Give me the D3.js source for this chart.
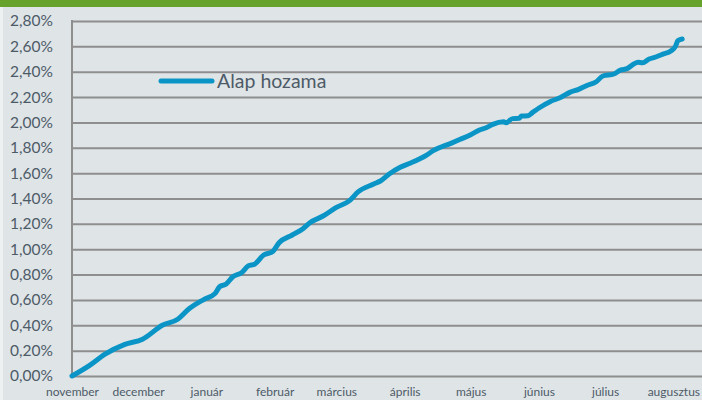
<!DOCTYPE html>
<html>
<head>
<meta charset="utf-8">
<script src="https://cdn.jsdelivr.net/npm/d3@7/dist/d3.min.js"></script>
<style>
  html, body { margin: 0; padding: 0; background: #dfe4e7; }
  svg { display: block; }
</style>
</head>
<body>
<svg id="chart" width="702" height="400"></svg>
<script>
// ---- DATA ----
const seriesName = "Alap hozama";
const dates = [
  "2013-11-01","2013-11-09","2013-11-16","2013-11-25","2013-12-03","2013-12-12","2013-12-19","2013-12-24","2013-12-31",
  "2014-01-05","2014-01-07","2014-01-10","2014-01-13","2014-01-17","2014-01-20","2014-01-23","2014-01-27","2014-01-31",
  "2014-02-03","2014-02-09","2014-02-14","2014-02-17","2014-02-23",
  "2014-03-01","2014-03-07","2014-03-11","2014-03-18","2014-03-21","2014-03-25","2014-03-30",
  "2014-04-04","2014-04-11","2014-04-14","2014-04-22","2014-04-26",
  "2014-05-01","2014-05-05","2014-05-08","2014-05-11","2014-05-16","2014-05-17","2014-05-20","2014-05-23","2014-05-24","2014-05-27","2014-05-29",
  "2014-06-01","2014-06-06","2014-06-11","2014-06-15","2014-06-19","2014-06-23","2014-06-27","2014-06-30",
  "2014-07-05","2014-07-08","2014-07-11","2014-07-14","2014-07-16","2014-07-18","2014-07-21","2014-07-24","2014-07-27","2014-07-31",
  "2014-08-02","2014-08-03","2014-08-05"
];
const values = [
  0.000,0.084,0.173,0.250,0.290,0.400,0.447,0.528,0.605,
  0.652,0.704,0.726,0.783,0.815,0.868,0.883,0.954,0.980,
  1.051,1.112,1.164,1.209,1.262,
  1.330,1.383,1.454,1.514,1.538,1.593,1.646,
  1.682,1.743,1.777,1.835,1.865,
  1.903,1.940,1.958,1.985,2.005,1.997,2.030,2.032,2.050,2.053,2.077,
  2.114,2.164,2.198,2.237,2.261,2.293,2.321,2.366,
  2.382,2.413,2.424,2.461,2.474,2.470,2.500,2.516,2.537,2.565,
  2.602,2.644,2.658
];
const monthLabels = ["november","december","január","február","március","április","május","június","július","augusztus"];
const monthStarts = ["2013-11-01","2013-12-01","2014-01-01","2014-02-01","2014-03-01","2014-04-01","2014-05-01","2014-06-01","2014-07-01","2014-08-01"];
const yTicks = [0,0.2,0.4,0.6,0.8,1.0,1.2,1.4,1.6,1.8,2.0,2.2,2.4,2.6,2.8];

// ---- CHART ----
(function () {
const parse = d3.timeParse("%Y-%m-%d");
const data = dates.map((d, i) => ({ date: parse(d), value: values[i] }));

const svg = d3.select("#chart");
const W = 702, H = 400;
const pLeft = 72, pRight = 702, pTop = 21, pBottom = 376;
const textColor = "#4d5b67";
const gridColor = "#8e8e8e";
const font = "Lato, 'Open Sans', sans-serif";

svg.append("rect").attr("x", 0).attr("y", 0).attr("width", W).attr("height", H).attr("fill", "#dfe4e7");
svg.append("rect").attr("x", 0).attr("y", 0).attr("width", 3).attr("height", H).attr("fill", "#eef1f2");
svg.append("rect").attr("x", 0).attr("y", 0).attr("width", W).attr("height", 7).attr("fill", "#66a22c");

const x = d3.scaleTime()
  .domain([parse("2013-11-01"), parse("2014-08-14")])
  .range([pLeft, pRight]);
const y = d3.scaleLinear().domain([0, 2.8]).range([pBottom, pTop]);

// gridlines + y labels
const yAxis = d3.axisLeft(y)
  .tickValues(yTicks)
  .tickSize(-(pRight - pLeft))
  .tickPadding(19)
  .tickFormat(d => d.toFixed(2).replace(".", ",") + "%");
const gy = svg.append("g").attr("transform", `translate(${pLeft},0)`).call(yAxis);
gy.select(".domain").remove();
gy.selectAll(".tick line").attr("stroke", gridColor).attr("stroke-width", 2);
gy.selectAll(".tick text")
  .attr("fill", textColor)
  .style("font-family", font)
  .style("font-size", "15.5px");

// vertical axis line
svg.append("line")
  .attr("x1", pLeft).attr("x2", pLeft)
  .attr("y1", y(2.8) - 1).attr("y2", y(0) + 1)
  .attr("stroke", gridColor).attr("stroke-width", 2);

// x labels
const xAxis = d3.axisBottom(x)
  .tickValues(monthStarts.map(parse))
  .tickSize(0)
  .tickPadding(11)
  .tickFormat((d, i) => monthLabels[i]);
const gx = svg.append("g").attr("transform", `translate(0,${pBottom})`).call(xAxis);
gx.select(".domain").remove();
gx.selectAll(".tick text")
  .attr("fill", textColor)
  .style("font-family", font)
  .style("font-size", "12px");

// line
const line = d3.line().x(d => x(d.date)).y(d => y(d.value)).curve(d3.curveMonotoneX);
svg.append("path")
  .datum(data)
  .attr("d", line)
  .attr("fill", "none")
  .attr("stroke", "#0b95c6")
  .attr("stroke-width", 5)
  .attr("stroke-linejoin", "round")
  .attr("stroke-linecap", "round");

// legend
svg.append("line")
  .attr("x1", 161).attr("x2", 212).attr("y1", 81).attr("y2", 81)
  .attr("stroke", "#0b95c6").attr("stroke-width", 5).attr("stroke-linecap", "round");
svg.append("text")
  .attr("x", 217).attr("y", 81).attr("dy", "0.35em")
  .attr("fill", textColor)
  .style("font-family", font)
  .style("font-size", "19.5px")
  .text(seriesName);
})();
</script>
</body>
</html>
